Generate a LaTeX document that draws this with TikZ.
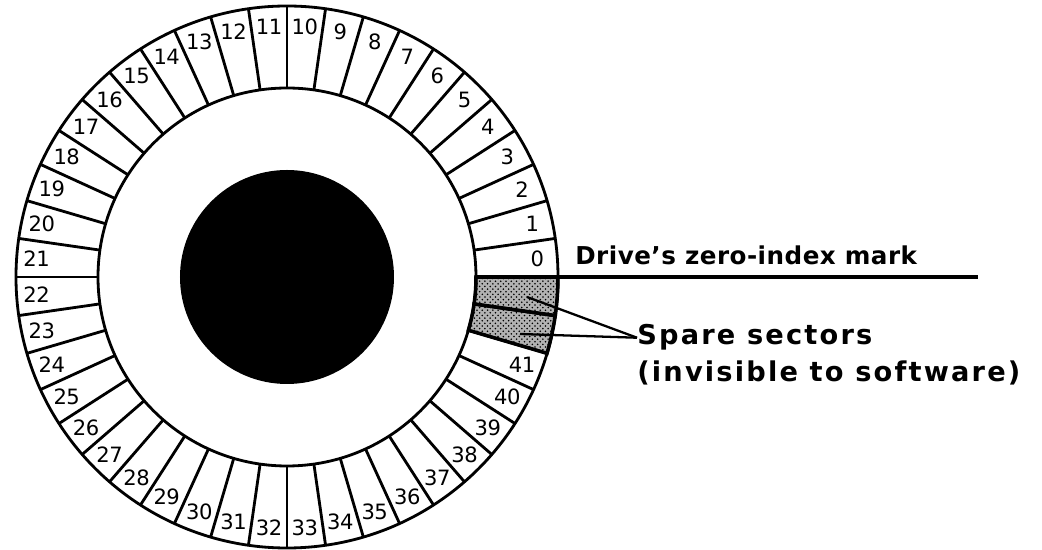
\documentclass[tikz,border=0pt]{standalone}
\usepackage{fontspec}
\setsansfont{DejaVu Sans}
\usepackage{tikz}
\usetikzlibrary{positioning,calc,patterns}

\begin{document}
\begin{tikzpicture}[x=0.02cm, y=0.02cm,
  seclab/.style={font=\sffamily\fontsize{12}{14}\selectfont\addfontfeature{LetterSpace=-2}, inner sep=0pt},
  marklab/.style={font=\sffamily\bfseries\fontsize{14}{16}\selectfont\addfontfeature{LetterSpace=2}, anchor=base west, inner sep=0pt},
  sparelab/.style={font=\sffamily\bfseries\fontsize{15.5}{18}\selectfont\addfontfeature{LetterSpace=8}, anchor=base west, inner sep=0pt},
  ringline/.style={line width=1.6pt},
  spare/.style={preaction={fill=black!30}, pattern=crosshatch dots, pattern color=black, draw, line width=2pt},
  leader/.style={line width=1.3pt}
]

\useasboundingbox (-287,-273) rectangle (755,277);

\def\rin{189}
\def\rout{271}
\def\rlab{251}
\def\sang{360/44}

\foreach \k in {42,43}
  \filldraw[spare] ({\k*\sang}:\rin) -- ({\k*\sang}:\rout)
    arc[start angle={\k*\sang}, end angle={(\k+1)*\sang}, radius=\rout]
    -- ({(\k+1)*\sang}:\rin)
    arc[start angle={(\k+1)*\sang}, end angle={\k*\sang}, radius=\rin] -- cycle;

\draw[ringline] (0,0) circle[radius=\rout];
\draw[ringline] (0,0) circle[radius=\rin];
\foreach \k in {0,...,43}
  \draw[ringline] ({\k*\sang}:\rin) -- ({\k*\sang}:\rout);

\fill (0,0) circle[radius=107];

\foreach \i in {0,...,41}
  \node[seclab] (s\i) at ({(\i+0.5)*\sang}:\rlab) {\i};

\coordinate (zin) at (0:\rin);
\coordinate (zout) at (691,0);
\draw[line width=2pt] (zin) -- (zout);
\node[marklab] (zero) at (288,12) {Drive's zero-index mark};

\node[sparelab] (spare) at (350,-68) {Spare sectors};
\node[sparelab] (invis) at (350,-105) {(invisible to software)};

\coordinate (sa) at (240,-20);
\coordinate (sb) at (233,-57);
\draw[leader] (sa) -- (spare.west);
\draw[leader] (sb) -- (spare.west);

\end{tikzpicture}
\end{document}
